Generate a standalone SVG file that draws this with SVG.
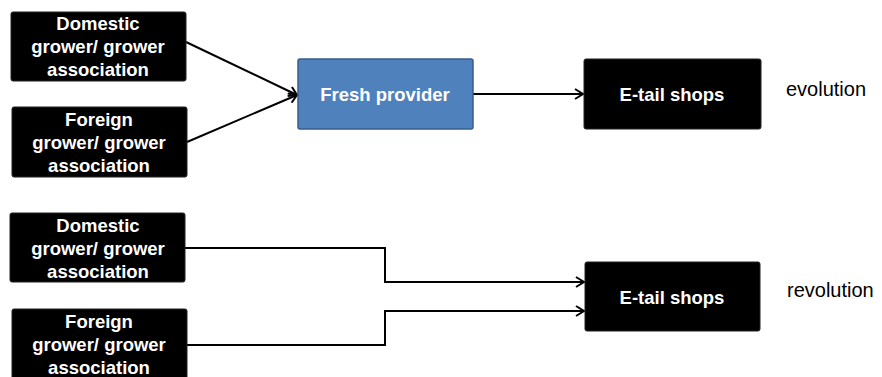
<svg xmlns="http://www.w3.org/2000/svg" width="882" height="377" viewBox="0 0 882 377">
<defs>
<style>
.bx{fill:#000;stroke:#222;stroke-width:1}
.bl{fill:#4F81BD;stroke:#385D8A;stroke-width:1.5}
.t{font-family:"Liberation Sans",Arial,sans-serif;font-weight:bold;font-size:18.5px;fill:#fff;text-anchor:middle}
.lbl{font-family:"Liberation Sans",Arial,sans-serif;font-size:20px;fill:#000}
.c{fill:none;stroke:#000;stroke-width:2}
</style>
<marker id="ah" markerWidth="12" markerHeight="12" refX="10" refY="6" orient="auto" markerUnits="userSpaceOnUse">
<polyline points="2,1 10,6 2,11" fill="none" stroke="#000" stroke-width="2"/>
</marker>
</defs>
<g id="connectors">
<line class="c" x1="186" y1="42" x2="297" y2="95" marker-end="url(#ah)"/>
<line class="c" x1="187" y1="142" x2="297" y2="95" marker-end="url(#ah)"/>
<line class="c" x1="473" y1="94" x2="583" y2="94" marker-end="url(#ah)"/>
<polyline class="c" points="185,248 385,248 385,282 584,282" marker-end="url(#ah)"/>
<polyline class="c" points="187,345 385,345 385,311 584,311" marker-end="url(#ah)"/>
</g>
<g id="dom1"><rect class="bx" x="11" y="12" width="175" height="69" rx="2"/>
<text class="t" x="98" y="30">Domestic</text><text class="t" x="98" y="53">grower/ grower</text><text class="t" x="98" y="76">association</text></g>
<g id="for1"><rect class="bx" x="12" y="107" width="175" height="70" rx="2"/>
<text class="t" x="99" y="126">Foreign</text><text class="t" x="99" y="149">grower/ grower</text><text class="t" x="99" y="172">association</text></g>
<g id="fresh"><rect class="bl" x="298" y="59" width="175" height="70" rx="2"/>
<text class="t" x="385" y="101">Fresh provider</text></g>
<g id="etail1"><rect class="bx" x="584" y="59" width="177" height="70" rx="2"/>
<text class="t" x="672" y="101">E-tail shops</text></g>
<text class="lbl" x="786" y="96">evolution</text>
<g id="dom2"><rect class="bx" x="10" y="213" width="175" height="69" rx="2"/>
<text class="t" x="98" y="232">Domestic</text><text class="t" x="98" y="255">grower/ grower</text><text class="t" x="98" y="278">association</text></g>
<g id="for2"><rect class="bx" x="12" y="309" width="175" height="80" rx="2"/>
<text class="t" x="99" y="328">Foreign</text><text class="t" x="99" y="351">grower/ grower</text><text class="t" x="99" y="374">association</text></g>
<g id="etail2"><rect class="bx" x="585" y="262" width="175" height="69" rx="2"/>
<text class="t" x="672" y="304">E-tail shops</text></g>
<text class="lbl" x="787" y="297">revolution</text>
</svg>
